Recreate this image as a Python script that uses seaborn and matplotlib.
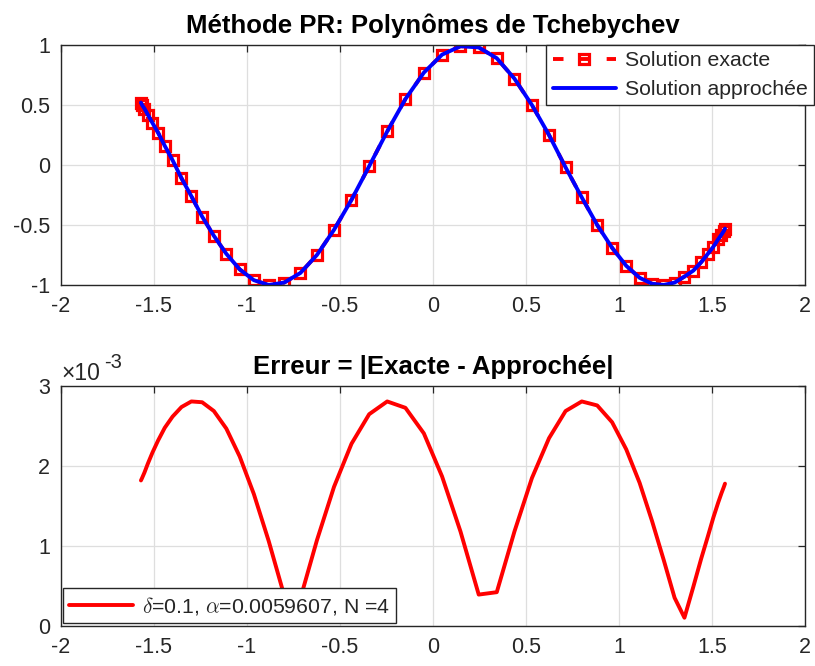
import numpy as np
import matplotlib
matplotlib.use("Agg")
import matplotlib.pyplot as plt
import seaborn as sns

# Chebyshev-Gauss nodes on [-pi/2, pi/2]
x_nodes = [-1.570, -1.564, -1.551, -1.533, -1.508, -1.478, -1.442, -1.400, -1.352, -1.299,
           -1.241, -1.178, -1.111, -1.039, -0.963, -0.883, -0.800, -0.713, -0.624, -0.532,
           -0.438, -0.343, -0.246, -0.148, -0.049, 0.049, 0.148, 0.246, 0.343, 0.438,
           0.532, 0.624, 0.713, 0.800, 0.883, 0.963, 1.039, 1.111, 1.178, 1.241,
           1.299, 1.352, 1.400, 1.442, 1.478, 1.508, 1.533, 1.551, 1.564, 1.570]

# exact solution at the nodes
y_exacte = [0.52, 0.50, 0.47, 0.42, 0.35, 0.27, 0.16, 0.04, -0.11, -0.26,
            -0.43, -0.59, -0.74, -0.87, -0.96, -1.00, -0.98, -0.90, -0.75, -0.54,
            -0.29, -0.01, 0.28, 0.55, 0.77, 0.92, 0.99, 0.98, 0.89, 0.72,
            0.50, 0.25, -0.02, -0.27, -0.50, -0.69, -0.84, -0.94, -0.99, -1.00,
            -0.98, -0.93, -0.88, -0.81, -0.74, -0.68, -0.62, -0.58, -0.55, -0.53]

# approximated solution (PR method) at the nodes
y_approchee = [0.52, 0.50, 0.47, 0.42, 0.35, 0.27, 0.16, 0.04, -0.11, -0.26,
               -0.43, -0.59, -0.74, -0.87, -0.96, -1.00, -0.98, -0.90, -0.75, -0.54,
               -0.29, -0.01, 0.28, 0.55, 0.77, 0.92, 0.99, 0.98, 0.89, 0.72,
               0.50, 0.25, -0.02, -0.27, -0.50, -0.69, -0.84, -0.94, -0.99, -1.00,
               -0.98, -0.93, -0.88, -0.81, -0.74, -0.68, -0.62, -0.58, -0.55, -0.53]

# |exact - approx| in units of 1e-3
erreur_e3 = [1.82, 1.85, 1.92, 2.03, 2.17, 2.32, 2.48, 2.62, 2.74, 2.81,
             2.80, 2.69, 2.47, 2.12, 1.65, 1.06, 0.38, 0.34, 1.07, 1.74,
             2.28, 2.65, 2.81, 2.73, 2.41, 1.87, 1.18, 0.39, 0.42, 1.18,
             1.85, 2.35, 2.69, 2.81, 2.76, 2.55, 2.21, 1.79, 1.31, 0.82,
             0.35, 0.10, 0.49, 0.84, 1.12, 1.36, 1.54, 1.66, 1.74, 1.78]

x_ticks = [-2, -1.5, -1, -0.5, 0, 0.5, 1, 1.5, 2]
x_ticklabels = ["-2", "-1.5", "-1", "-0.5", "0", "0.5", "1", "1.5", "2"]
y1_ticks = [-1, -0.5, 0, 0.5, 1]
y1_ticklabels = ["-1", "-0.5", "0", "0.5", "1"]
y2_ticks = [0, 1e-3, 2e-3, 3e-3]
y2_ticklabels = ["0", "1", "2", "3"]

sns.set_style("white")
plt.rcParams["font.family"] = ["Liberation Sans", "DejaVu Sans"]
plt.rcParams["mathtext.fontset"] = "cm"
plt.rcParams["axes.unicode_minus"] = False

AX_COL = "#262626"
GRID_COL = "#dedede"
TICK_FS = 15.5
LEG_FS = 15.3
TITLE_FS = 18.5

fig = plt.figure(figsize=(8.15, 6.66), dpi=100)
ax1 = fig.add_axes([0.0748, 0.5721, 0.9129, 0.3603])
ax2 = fig.add_axes([0.0748, 0.0605, 0.9129, 0.3595])


def style_axes(ax):
    ax.set_xlim(-2, 2)
    ax.set_xticks(x_ticks)
    ax.set_xticklabels(x_ticklabels)
    ax.grid(True, color=GRID_COL, lw=0.9)
    ax.set_axisbelow(True)
    for s in ax.spines.values():
        s.set_visible(True)
        s.set_color(AX_COL)
        s.set_linewidth(1.0)
    ax.tick_params(axis="both", which="both", direction="in", length=5, width=0.9,
                   colors=AX_COL, labelsize=TICK_FS, top=True, right=True)
    ax.tick_params(axis="x", pad=8)
    ax.tick_params(axis="y", pad=8)
    ax.set_xlabel("")
    ax.set_ylabel("")


def style_legend(leg):
    fr = leg.get_frame()
    fr.set_edgecolor(AX_COL)
    fr.set_linewidth(1.0)
    fr.set_alpha(1)


# --- top: exact vs approximated solution ---
sns.lineplot(x=x_nodes, y=y_exacte, ax=ax1, sort=False, estimator=None,
             color="red", linestyle=(0, (2.7, 4.2)), linewidth=2.8,
             marker="s", markersize=7.5, markeredgewidth=2.3,
             markeredgecolor="red", markerfacecolor="none",
             label="Solution exacte")
sns.lineplot(x=x_nodes, y=y_approchee, ax=ax1, sort=False, estimator=None,
             color="blue", linewidth=2.8, label="Solution approchée")
ax1.set_ylim(-1, 1)
ax1.set_yticks(y1_ticks)
ax1.set_yticklabels(y1_ticklabels)
style_axes(ax1)
ax1.set_title("Méthode PR: Polynômes de Tchebychev", fontsize=TITLE_FS,
              fontweight="bold", color="black", pad=9)
leg1 = ax1.legend(loc="upper right", bbox_to_anchor=(814 / 815, 1 - 45 / 666),
                  bbox_transform=fig.transFigure, borderaxespad=0,
                  fontsize=LEG_FS, frameon=True, fancybox=False,
                  handlelength=3.0, handletextpad=0.4, borderpad=0.3,
                  labelspacing=0.45)
style_legend(leg1)

# --- bottom: absolute error ---
erreur = np.array(erreur_e3) * 1e-3
sns.lineplot(x=x_nodes, y=erreur, ax=ax2, sort=False, estimator=None,
             color="red", linewidth=2.8,
             label=r"$\delta$=0.1, $\alpha$=0.0059607, N =4")
ax2.set_ylim(0, 3e-3)
ax2.set_yticks(y2_ticks)
ax2.set_yticklabels(y2_ticklabels)
style_axes(ax2)
ax2.set_title("Erreur = |Exacte - Approchée|", fontsize=TITLE_FS,
              fontweight="bold", color="black", pad=9)
ax2.annotate("×10", xy=(0, 1), xycoords="axes fraction", xytext=(0, 1),
             textcoords="offset points", ha="left", va="bottom",
             fontsize=TICK_FS + 1, color=AX_COL)
ax2.annotate("-3", xy=(0, 1), xycoords="axes fraction", xytext=(31, 10),
             textcoords="offset points", ha="left", va="bottom",
             fontsize=TICK_FS - 1, color=AX_COL)
leg2 = ax2.legend(loc="lower left", bbox_to_anchor=(63 / 815, 1 - 623 / 666),
                  bbox_transform=fig.transFigure, borderaxespad=0,
                  fontsize=LEG_FS, frameon=True, fancybox=False,
                  handlelength=3.0, handletextpad=0.4, borderpad=0.3)
style_legend(leg2)

fig.savefig("out.png", dpi=100)
